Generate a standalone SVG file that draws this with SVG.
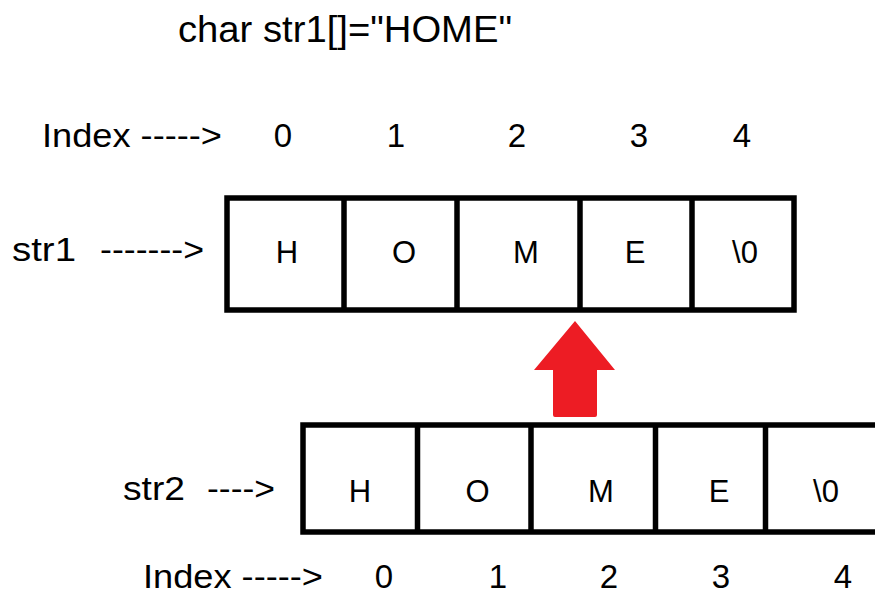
<svg xmlns="http://www.w3.org/2000/svg" width="875" height="596" viewBox="0 0 875 596">
<style>
text{font-family:"Liberation Sans",Arial,sans-serif;fill:#000}
.t{font-size:33px}
.c{font-size:31px;text-anchor:middle}
.d{font-size:33px;text-anchor:middle}
.box{fill:#fff;stroke:#000;stroke-width:5.5}
.div{stroke:#000;stroke-width:5.5}
</style>
<rect width="875" height="596" fill="#fff"/>
<g id="title"><text x="178" y="42" style="font-size:36px" textLength="334" lengthAdjust="spacingAndGlyphs">char str1[]="HOME"</text></g>
<g id="index-top">
<text class="t" x="42" y="147" textLength="180" lengthAdjust="spacingAndGlyphs">Index -----&gt;</text>
<text class="d" x="283" y="147">0</text>
<text class="d" x="396" y="147">1</text>
<text class="d" x="517" y="147">2</text>
<text class="d" x="639" y="147">3</text>
<text class="d" x="742" y="147">4</text>
</g>
<g id="str1-label"><text class="t" x="12" y="261" textLength="64" lengthAdjust="spacingAndGlyphs">str1</text><text class="t" x="100" y="261" textLength="104" lengthAdjust="spacingAndGlyphs">-------&gt;</text></g>
<g id="str1">
<rect class="box" x="227" y="198" width="567" height="112"/>
<line class="div" x1="344" y1="198" x2="344" y2="310"/>
<line class="div" x1="457" y1="198" x2="457" y2="310"/>
<line class="div" x1="580" y1="198" x2="580" y2="310"/>
<line class="div" x1="692" y1="198" x2="692" y2="310"/>
<g id="str1-0"><text class="c" x="287" y="263">H</text></g>
<g id="str1-1"><text class="c" x="404" y="263">O</text></g>
<g id="str1-2"><text class="c" x="526" y="263">M</text></g>
<g id="str1-3"><text class="c" x="635" y="263">E</text></g>
<g id="str1-4"><text class="c" x="745" y="263">\0</text></g>
</g>
<g id="connectors">
<path d="M575 321 L615 370 L597 370 L597 415 Q597 417 595 417 L555 417 Q553 417 553 415 L553 370 L534 370 Z" fill="#ED1C24"/>
</g>
<g id="str2-label"><text class="t" x="123" y="500" textLength="62" lengthAdjust="spacingAndGlyphs">str2</text><text class="t" x="207" y="500" textLength="68" lengthAdjust="spacingAndGlyphs">----&gt;</text></g>
<g id="str2">
<rect class="box" x="303" y="425" width="600" height="107"/>
<line class="div" x1="417.5" y1="425" x2="417.5" y2="532"/>
<line class="div" x1="531" y1="425" x2="531" y2="532"/>
<line class="div" x1="655.5" y1="425" x2="655.5" y2="532"/>
<line class="div" x1="765.5" y1="425" x2="765.5" y2="532"/>
<g id="str2-0"><text class="c" x="360" y="502">H</text></g>
<g id="str2-1"><text class="c" x="477.5" y="502">O</text></g>
<g id="str2-2"><text class="c" x="601" y="502">M</text></g>
<g id="str2-3"><text class="c" x="719" y="502">E</text></g>
<g id="str2-4"><text class="c" x="826" y="502">\0</text></g>
</g>
<g id="index-bottom">
<text class="t" x="143" y="588" textLength="180" lengthAdjust="spacingAndGlyphs">Index -----&gt;</text>
<text class="d" x="384" y="588">0</text>
<text class="d" x="498" y="588">1</text>
<text class="d" x="609" y="588">2</text>
<text class="d" x="721" y="588">3</text>
<text class="d" x="843" y="588">4</text>
</g>
</svg>
